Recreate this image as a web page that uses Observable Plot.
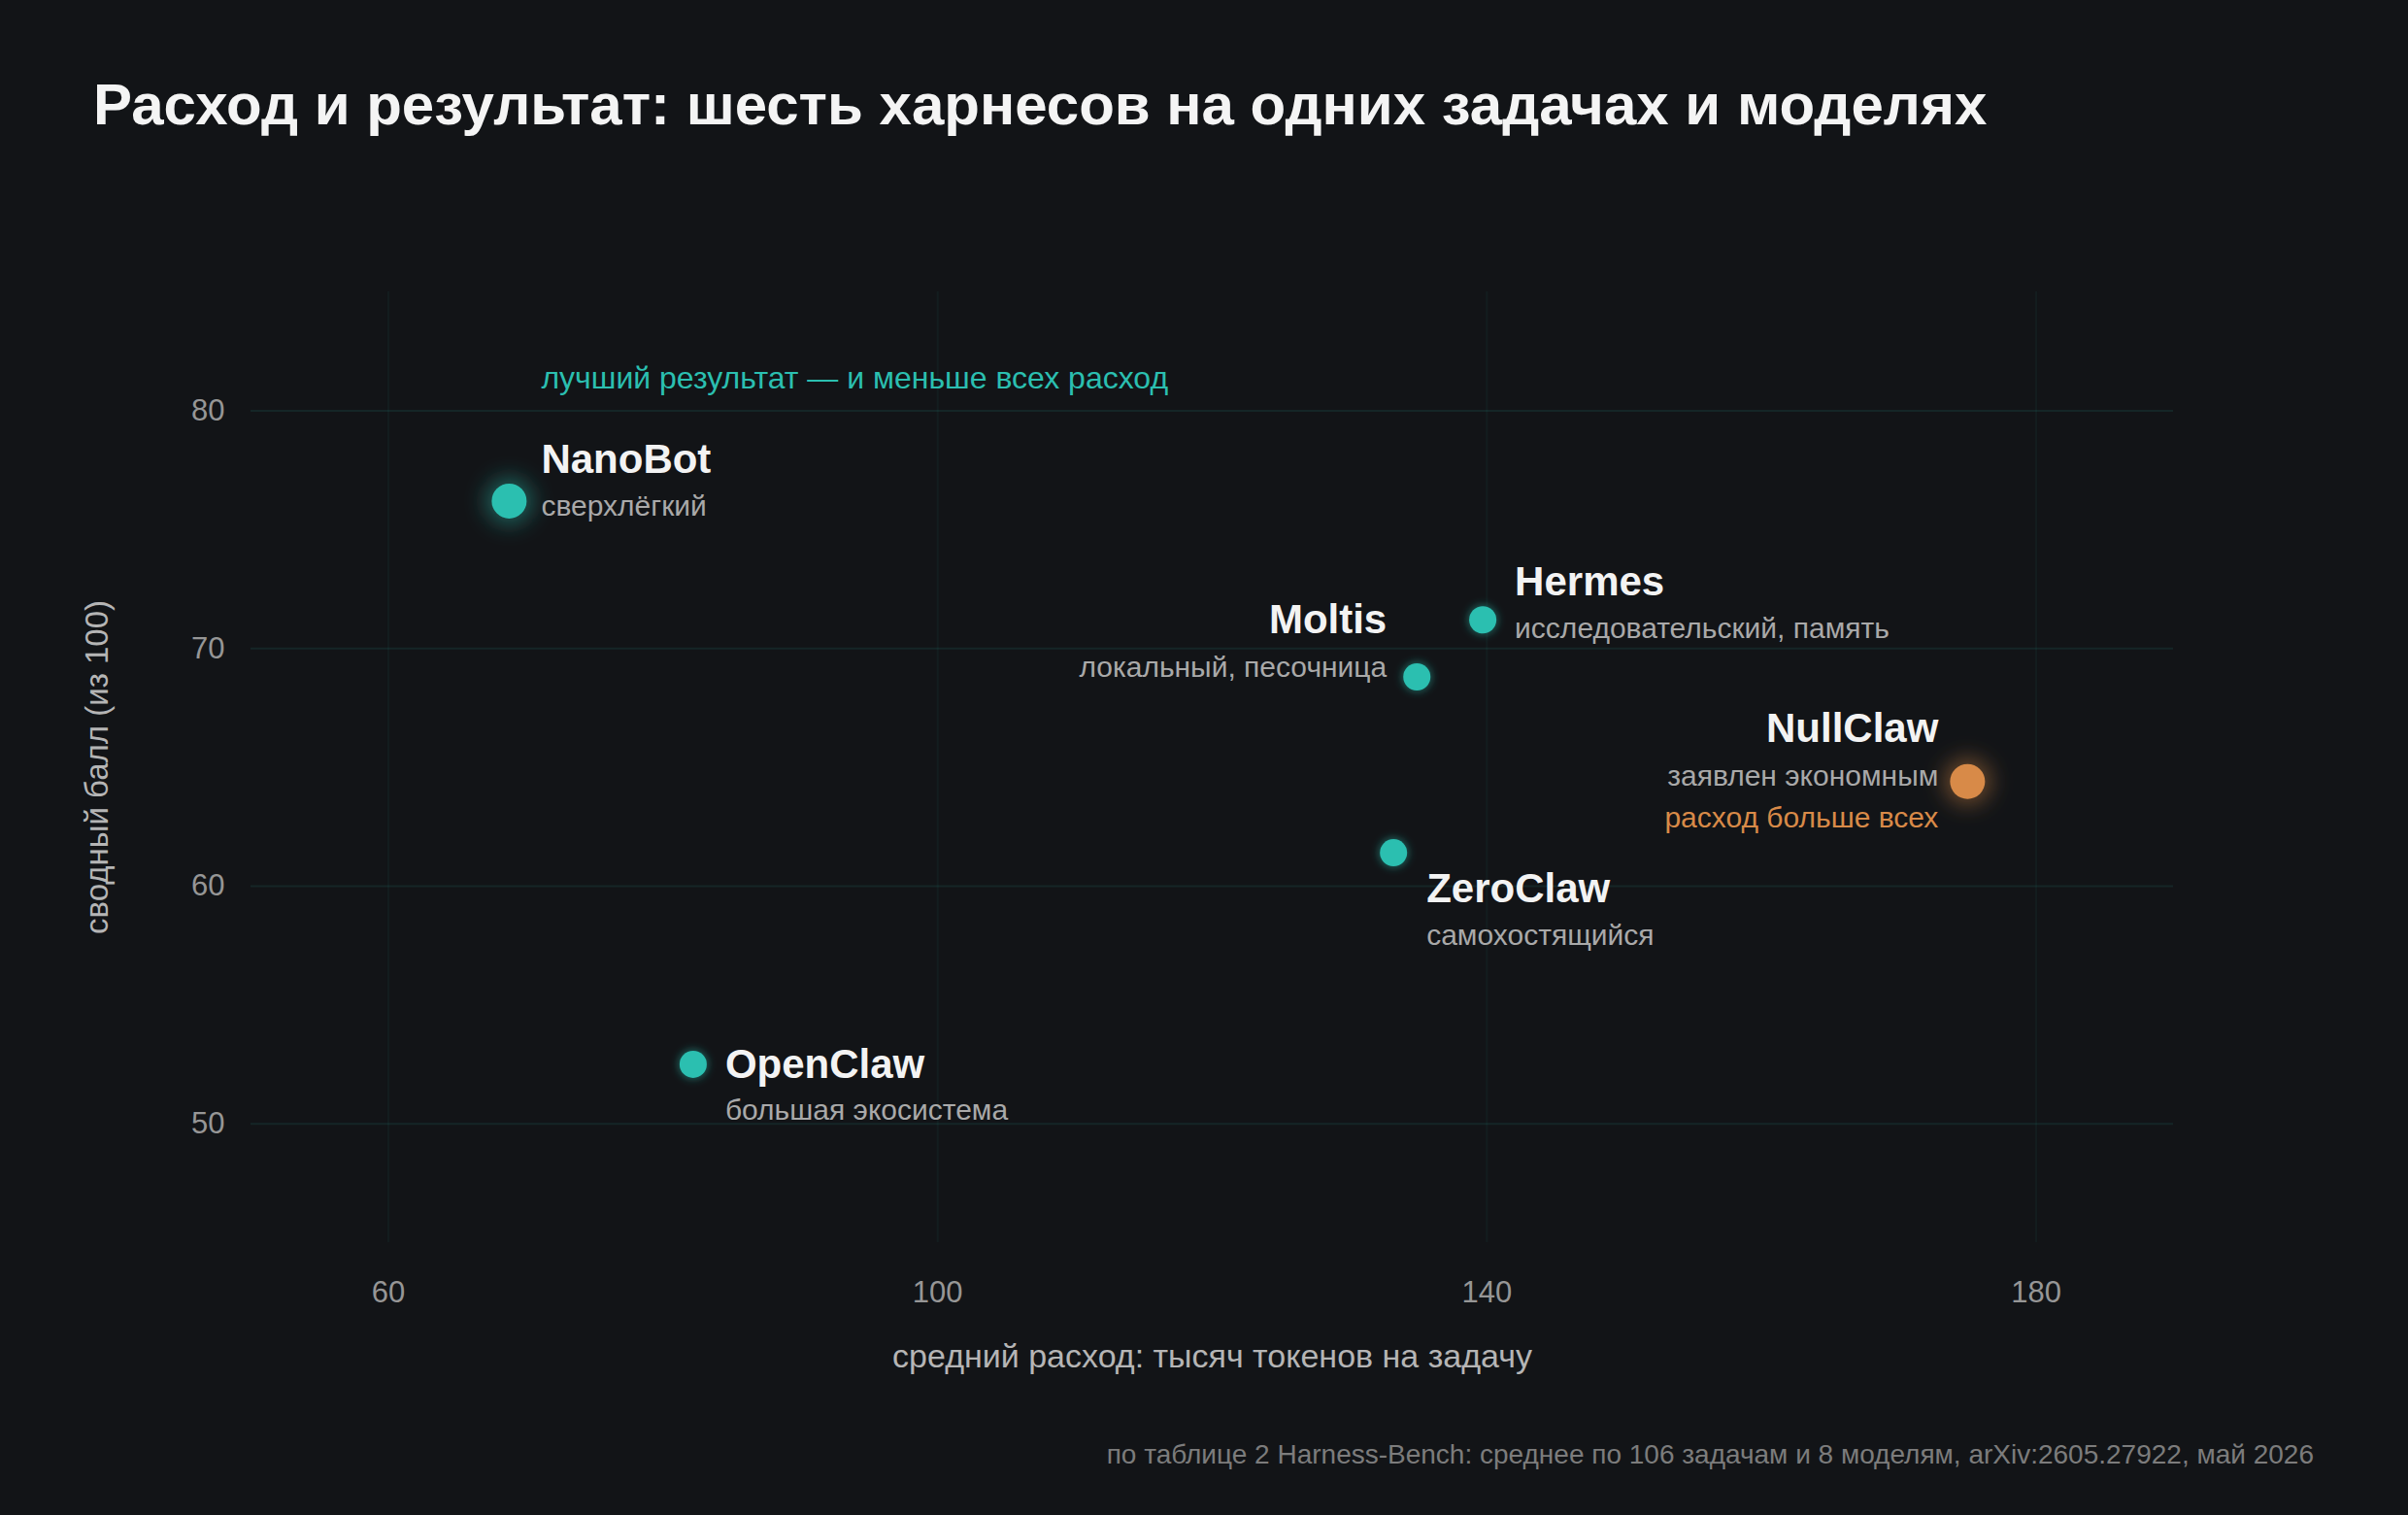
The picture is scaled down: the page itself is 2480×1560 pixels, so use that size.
<!DOCTYPE html>
<html>
<head>
<meta charset="utf-8">
<script src="https://cdn.jsdelivr.net/npm/d3@7"></script>
<script src="https://cdn.jsdelivr.net/npm/@observablehq/plot@0.6"></script>
<style>
  html, body { margin: 0; padding: 0; background: #121417; }
  #page { position: relative; width: 2480px; height: 1560px; background: #121417;
          font-family: "Liberation Sans", Arial, sans-serif; overflow: hidden; }
  #title { position: absolute; left: 96px; top: 78px; font-size: 60px; line-height: 60px;
           font-weight: 700; color: #f4f4f4; white-space: nowrap; }
  #chart { position: absolute; left: 0; top: 170px; }
  #caption { position: absolute; right: 97px; top: 1484px; font-size: 28px; line-height: 28px;
             color: #7c7c7c; white-space: nowrap; }
</style>
</head>
<body>
<div id="page">
  <div id="title"></div>
  <div id="chart"></div>
  <div id="caption"></div>
</div>
<script>
// ---- data ----
const titleText = "Расход и результат: шесть харнесов на одних задачах и моделях";
const captionText = "по таблице 2 Harness-Bench: среднее по 106 задачам и 8 моделям, arXiv:2605.27922, май 2026";
const xLabel = "средний расход: тысяч токенов на задачу";
const yLabel = "сводный балл (из 100)";

const names = ["NanoBot", "OpenClaw", "Moltis", "Hermes", "ZeroClaw", "NullClaw"];
const cost  = [68.8, 82.2, 134.9, 139.7, 133.2, 175.0];
const score = [76.2, 52.5, 68.8, 71.2, 61.4, 64.4];
const notes = ["сверхлёгкий", "большая экосистема", "локальный, песочница",
               "исследовательский, память", "самохостящийся", "заявлен экономным"];

const bestName = "NanoBot";
const bestNote = "лучший результат — и меньше всех расход";
const worstName = "NullClaw";
const worstNote = "расход больше всех";

const xTicks = [60, 100, 140, 180];
const yTicks = [50, 60, 70, 80];

// ---- styling / label placement (pixels) ----
const TEAL = "#2bbfb0", ORANGE = "#d88a48";
const layout = {
  NanoBot:  {anchor: "start", dx: 33,  nameDy: -29, noteDy: 15},
  OpenClaw: {anchor: "start", dx: 33,  nameDy: 14,  noteDy: 57},
  Moltis:   {anchor: "end",   dx: -31, nameDy: -45, noteDy: 0},
  Hermes:   {anchor: "start", dx: 33,  nameDy: -25, noteDy: 19},
  ZeroClaw: {anchor: "start", dx: 34,  nameDy: 51,  noteDy: 95},
  NullClaw: {anchor: "end",   dx: -30, nameDy: -41, noteDy: 4}
};

const rows = names.map((n, i) => ({name: n, cost: cost[i], score: score[i], note: notes[i]}));
const isBig = d => d.name === bestName || d.name === worstName;
const small = rows.filter(d => !isBig(d));
const bestRow = rows.filter(d => d.name === bestName);
const worstRow = rows.filter(d => d.name === worstName);

const font = "Liberation Sans, Arial, sans-serif";

const marks = [
  Plot.gridX(xTicks, {stroke: TEAL, strokeOpacity: 0.06, strokeWidth: 2}),
  Plot.gridY(yTicks, {stroke: TEAL, strokeOpacity: 0.11, strokeWidth: 2}),
  Plot.axisX(xTicks, {tickSize: 0, tickPadding: 39, fontSize: 31, fill: "#969696", label: null}),
  Plot.axisY(yTicks, {tickSize: 0, tickPadding: 27, fontSize: 31, fill: "#969696", label: null}),
  Plot.text([xLabel], {text: d => d, frameAnchor: "bottom", textAnchor: "middle", lineAnchor: "middle",
    dy: 118, fontSize: 34, fill: "#b5b5b5"}),
  Plot.text([yLabel], {text: d => d, frameAnchor: "left", textAnchor: "middle", lineAnchor: "middle",
    rotate: -90, dx: -158, fontSize: 33, fill: "#b5b5b5"}),
  // glows (first three dot marks)
  Plot.dot(small, {x: "cost", y: "score", r: 15, fill: TEAL, fillOpacity: 0.5}),
  Plot.dot(bestRow, {x: "cost", y: "score", r: 24, fill: TEAL, fillOpacity: 0.45}),
  Plot.dot(worstRow, {x: "cost", y: "score", r: 24, fill: ORANGE, fillOpacity: 0.45}),
  // dots
  Plot.dot(small, {x: "cost", y: "score", r: 14, fill: TEAL}),
  Plot.dot(bestRow, {x: "cost", y: "score", r: 18, fill: TEAL}),
  Plot.dot(worstRow, {x: "cost", y: "score", r: 18, fill: ORANGE})
];

for (const d of rows) {
  const L = layout[d.name];
  marks.push(Plot.text([d], {x: "cost", y: "score", text: "name", textAnchor: L.anchor, dx: L.dx, dy: L.nameDy,
    lineAnchor: "bottom", fontSize: 42, fontWeight: 700, fill: "#f3f3f3"}));
  marks.push(Plot.text([d], {x: "cost", y: "score", text: "note", textAnchor: L.anchor, dx: L.dx, dy: L.noteDy,
    lineAnchor: "bottom", fontSize: 30, fill: "#a9a9a9"}));
}
marks.push(Plot.text(bestRow, {x: "cost", y: "score", text: () => bestNote, textAnchor: "start", dx: 33, dy: -116,
  lineAnchor: "bottom", fontSize: 32, fill: TEAL}));
marks.push(Plot.text(worstRow, {x: "cost", y: "score", text: () => worstNote, textAnchor: "end", dx: -30, dy: 47,
  lineAnchor: "bottom", fontSize: 30, fill: ORANGE}));

const svg = Plot.plot({
  width: 2480,
  height: 1270,
  marginTop: 130,
  marginBottom: 161,
  marginLeft: 258,
  marginRight: 242,
  x: {domain: [50, 190], label: null},
  y: {domain: [45, 85], label: null},
  style: {background: "transparent", color: "#969696", fontFamily: font, fontSize: "30px", overflow: "visible"},
  marks
});

// glow filters
const ns = "http://www.w3.org/2000/svg";
const defs = document.createElementNS(ns, "defs");
function makeBlur(id, sd) {
  const f = document.createElementNS(ns, "filter");
  f.setAttribute("id", id);
  f.setAttribute("x", "-200%"); f.setAttribute("y", "-200%");
  f.setAttribute("width", "500%"); f.setAttribute("height", "500%");
  const b = document.createElementNS(ns, "feGaussianBlur");
  b.setAttribute("stdDeviation", sd);
  f.appendChild(b);
  defs.appendChild(f);
}
makeBlur("glowSmall", 4);
makeBlur("glowBig", 11);
svg.insertBefore(defs, svg.firstChild);
const dotGroups = svg.querySelectorAll('g[aria-label="dot"]');
if (dotGroups.length >= 6) {
  dotGroups[0].setAttribute("filter", "url(#glowSmall)");
  dotGroups[1].setAttribute("filter", "url(#glowBig)");
  dotGroups[2].setAttribute("filter", "url(#glowBig)");
}

document.getElementById("chart").appendChild(svg);
document.getElementById("title").textContent = titleText;
document.getElementById("caption").textContent = captionText;
</script>
</body>
</html>
